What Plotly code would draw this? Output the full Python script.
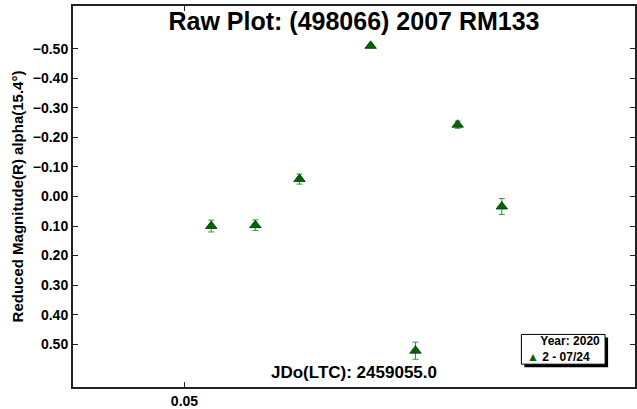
import plotly.graph_objects as go

# Data
jd_frac = [0.05288, 0.05763, 0.06238, 0.07004, 0.07487, 0.07941, 0.08416]
red_mag = [0.100, 0.097, -0.059, -0.510, 0.522, -0.243, 0.034]
mag_err = [0.020, 0.018, 0.017, 0.005, 0.029, 0.012, 0.027]
y_ticks = [-0.5, -0.4, -0.3, -0.2, -0.1, 0.0, 0.1, 0.2, 0.3, 0.4, 0.5]
x_ticks = [0.05, 0.10]
series_name = "2 - 07/24"
legend_title = "Year: 2020"
title_text = "Raw Plot: (498066) 2007 RM133"
jd_label = "JDo(LTC): 2459055.0"
y_label = "Reduced Magnitude(R) alpha(15.4°)"

FONT = "Liberation Sans, Arial, sans-serif"
MARK = "#006400"

# plot-area geometry (pixels) used to place the legend box in paper units
L, R, T, B = 73, 637, 6, 390
def px(x):
    return (x - L) / (R - L)
def py(y):
    return (B - y) / (B - T)

fig = go.Figure()
fig.add_trace(go.Scatter(
    x=jd_frac, y=red_mag, mode="markers", name=series_name, showlegend=False,
    marker=dict(symbol="triangle-up", size=10, color=MARK,
                line=dict(color="#003800", width=0.8)),
    error_y=dict(type="data", array=mag_err, visible=True,
                 color="#2e9a2e", thickness=1, width=3),
))

shapes = [
    # legend shadow
    dict(type="rect", xref="paper", yref="paper", x0=px(526), x1=px(610),
         y0=py(370), y1=py(340), fillcolor="black", line=dict(width=0), layer="above"),
    # legend box
    dict(type="rect", xref="paper", yref="paper", x0=px(523), x1=px(607),
         y0=py(367), y1=py(337), fillcolor="white",
         line=dict(color="black", width=1), layer="above"),
]

legend_text = ("&nbsp;&nbsp;&nbsp;&nbsp;<b>%s</b><br>"
               "<span style='color:%s'>▲</span> <b>%s</b>") % (legend_title, MARK, series_name)

annotations = [
    dict(text="<b>%s</b>" % jd_label, xref="paper", yref="paper",
         x=0.5, y=py(375), xanchor="center", yanchor="middle",
         showarrow=False, font=dict(size=17, family=FONT, color="black")),
    dict(text=legend_text, xref="paper", yref="paper", align="left",
         x=px(528), y=py(352), xanchor="left", yanchor="middle", borderpad=0,
         showarrow=False, font=dict(size=12, family=FONT, color="black")),
]

fig.update_layout(
    width=637, height=409,
    margin=dict(l=L, r=637 - R, t=T, b=409 - B),
    paper_bgcolor="white", plot_bgcolor="white",
    font=dict(family=FONT, size=12, color="black"),
    title=dict(text="<b>%s</b>" % title_text, x=0.5, xref="paper",
               xanchor="center", y=1 - 21 / 409, yref="container",
               yanchor="middle", font=dict(size=25, family=FONT, color="black")),
    showlegend=False,
    xaxis=dict(
        range=[0.038, 0.0985], tickvals=x_ticks, tickformat=".2f",
        ticks="inside", ticklen=5, tickcolor="#222", tickwidth=1,
        showline=True, linecolor="#222", linewidth=2, mirror="ticks",
        showgrid=False, zeroline=False,
        tickfont=dict(size=14, family=FONT, color="black", weight="bold"),
    ),
    yaxis=dict(
        range=[0.645, -0.645], tickvals=y_ticks, tickformat=".2f",
        ticks="inside", ticklen=5, tickcolor="#222", tickwidth=1,
        showline=True, linecolor="#222", linewidth=2, mirror="ticks",
        showgrid=False, zeroline=False,
        tickfont=dict(size=14, family=FONT, color="black", weight="bold"),
        title=dict(text="<b>%s</b>" % y_label, standoff=6,
                   font=dict(size=15, family=FONT, color="black")),
    ),
    shapes=shapes,
    annotations=annotations,
)

fig.write_html("out.html")
